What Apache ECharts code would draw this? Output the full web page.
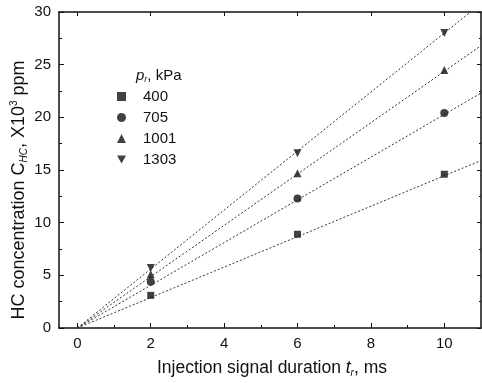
<!DOCTYPE html>
<html>
<head>
<meta charset="utf-8">
<script src="https://cdn.jsdelivr.net/npm/echarts@6/dist/echarts.min.js"></script>
<style>
  html, body { margin: 0; padding: 0; background: #fff; }
  #chart { width: 482px; height: 383px; }
</style>
</head>
<body>
<div id="chart"></div>
<script>
// injection duration, ms
const durations = [2, 6, 10];
const pressures = ["400", "705", "1001", "1303"];
// HC concentration, x10^3 ppm
const hc400 = [3.1, 8.9, 14.6];
const hc705 = [4.4, 12.3, 20.4];
const hc1001 = [5.1, 14.7, 24.5];
const hc1303 = [5.7, 16.6, 28.0];
// dotted fit lines, read at both ends
const fitX = [0, 11];
const fitStart = [0, 0, 0, 0];
const fitEnd = [15.9, 22.3, 26.8, 30.8];
const xMajorTicks = [0, 2, 4, 6, 8, 10];
const xMinorTicks = [1, 3, 5, 7, 9];

const font = "Liberation Sans, Arial, sans-serif";
const ink = "#111";
const groups = [hc400, hc705, hc1001, hc1303];
const symbols = ["rect", "circle", "triangle", "path://M0,0L10,0L5,9Z"];
const sizes = [7, 8, 8, 8];

const chart = echarts.init(document.getElementById("chart"));

const baseX = {
  type: "value", min: -0.5, max: 11, gridIndex: 0,
  splitLine: { show: false },
};

const series = [];
groups.forEach((values, i) => {
  series.push({
    name: pressures[i] + "_fit",
    type: "line",
    data: fitX.map((x, k) => [x, k === 0 ? fitStart[i] : fitEnd[i]]),
    showSymbol: false,
    silent: true,
    clip: true,
    lineStyle: { color: "#333", width: 1, type: [2, 2] },
    z: 1,
  });
  series.push({
    name: pressures[i],
    type: "scatter",
    data: durations.map((x, k) => [x, values[k]]),
    symbol: symbols[i],
    symbolSize: sizes[i],
    itemStyle: { color: ink },
    z: 3,
  });
});

chart.setOption({
  animation: false,
  grid: { left: 59, right: 1, top: 12, bottom: 55 },
  legend: {
    orient: "vertical",
    left: 112,
    top: 84,
    itemGap: 6,
    itemWidth: 9,
    itemHeight: 9,
    data: pressures.map((p, i) => ({ name: p, icon: symbols[i] })),
    textStyle: { fontFamily: font, fontSize: 15, color: ink, padding: [0, 0, 0, 12] },
    itemStyle: { color: ink },
  },
  xAxis: [
    Object.assign({}, baseX, {
      position: "bottom",
      axisLine: { onZero: false, lineStyle: { color: ink, width: 1.5 } },
      axisTick: { inside: true, length: 5, customValues: xMajorTicks, lineStyle: { color: ink } },
      axisLabel: { customValues: xMajorTicks, fontFamily: font, fontSize: 15, color: ink, margin: 8 },
    }),
    Object.assign({}, baseX, {
      position: "bottom",
      axisLine: { show: false },
      axisTick: { inside: true, length: 3, customValues: xMinorTicks, lineStyle: { color: ink } },
      axisLabel: { show: false },
    }),
    Object.assign({}, baseX, {
      position: "top",
      axisLine: { onZero: false, lineStyle: { color: ink, width: 1.5 } },
      axisTick: { inside: true, length: 4, customValues: xMajorTicks, lineStyle: { color: ink } },
      axisLabel: { show: false },
    }),
  ],
  yAxis: [
    {
      type: "value", min: 0, max: 30, interval: 5, position: "left",
      splitLine: { show: false },
      axisLine: { show: true, onZero: false, lineStyle: { color: ink, width: 1.5 } },
      axisTick: { inside: true, length: 5, lineStyle: { color: ink } },
      minorTick: { show: true, splitNumber: 2, length: 3, lineStyle: { color: ink } },
      axisLabel: { fontFamily: font, fontSize: 15, color: ink, margin: 8 },
    },
    {
      type: "value", min: 0, max: 30, interval: 5, position: "right",
      splitLine: { show: false },
      axisLine: { show: true, onZero: false, lineStyle: { color: ink, width: 1.5 } },
      axisTick: { inside: true, length: 4, lineStyle: { color: ink } },
      minorTick: { show: true, splitNumber: 2, length: 2, lineStyle: { color: ink } },
      axisLabel: { show: false },
    },
  ],
  graphic: [
    {
      type: "text",
      left: 136,
      top: 68,
      style: {
        text: "{i|p}{s|r}{n|, kPa}",
        rich: {
          i: { fontFamily: font, fontSize: 15, fontStyle: "italic", fill: ink },
          s: { fontFamily: font, fontSize: 9, fontStyle: "italic", fill: ink, padding: [8, 0, 0, 0] },
          n: { fontFamily: font, fontSize: 15, fill: ink },
        },
      },
    },
    {
      type: "text",
      x: 272,
      y: 368,
      style: {
        text: "{n|Injection signal duration }{i|t}{s|r}{n|, ms}",
        align: "center",
        verticalAlign: "middle",
        rich: {
          n: { fontFamily: font, fontSize: 17.5, fill: ink },
          i: { fontFamily: font, fontSize: 17.5, fontStyle: "italic", fill: ink },
          s: { fontFamily: font, fontSize: 10, fontStyle: "italic", fill: ink, padding: [10, 0, 0, 0] },
        },
      },
    },
    {
      type: "text",
      x: 19,
      y: 190,
      rotation: Math.PI / 2,
      style: {
        text: "{n|HC concentration }{i|C}{s|HC}{n|, X10}{p|3}{n| ppm}",
        align: "center",
        verticalAlign: "middle",
        rich: {
          n: { fontFamily: font, fontSize: 18, fill: ink },
          i: { fontFamily: font, fontSize: 18, fill: ink },
          s: { fontFamily: font, fontSize: 10, fontStyle: "italic", fill: ink, padding: [11, 0, 0, 0] },
          p: { fontFamily: font, fontSize: 10, fill: ink, padding: [0, 0, 10, 0] },
        },
      },
    },
  ],
  series: series,
});
</script>
</body>
</html>
